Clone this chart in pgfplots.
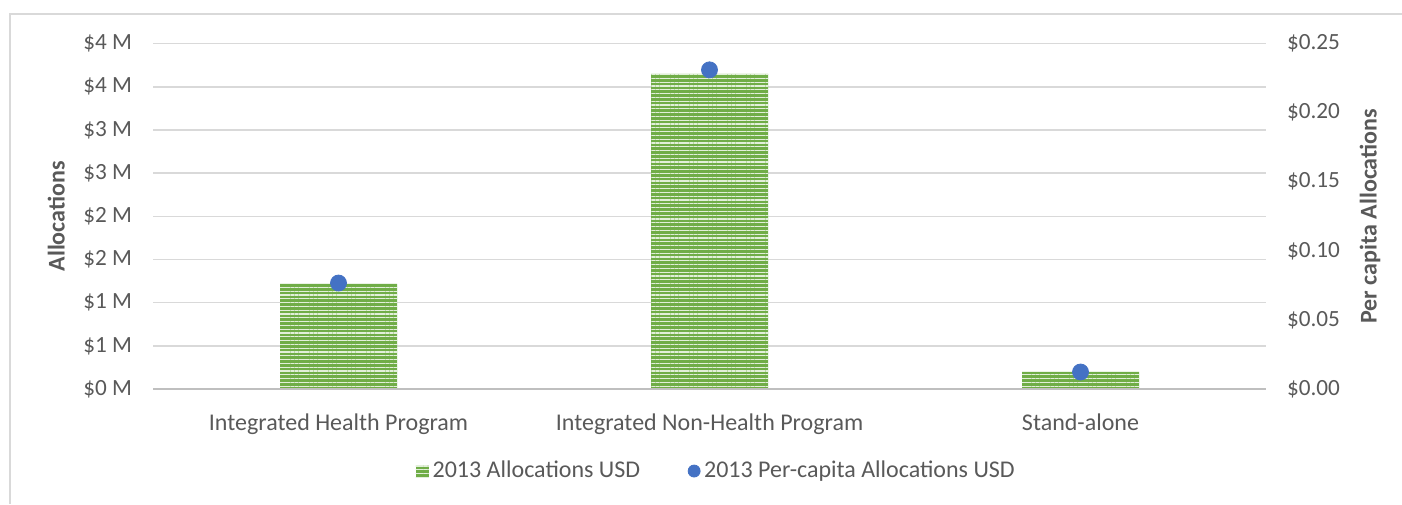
\documentclass[border=0pt]{standalone}
\usepackage{pgfplots}
\pgfplotsset{compat=1.18}
\usetikzlibrary{patterns.meta}
\usepackage{fontspec}
\setmainfont{Carlito}
\definecolor{txt}{HTML}{595959}
\definecolor{gridc}{HTML}{D9D9D9}
\definecolor{axisc}{HTML}{BFBFBF}
\definecolor{barGreen}{HTML}{70AD47}
\definecolor{dotBlue}{HTML}{4472C4}
\tikzset{barpat/.style={postaction={pattern={Lines[angle=0,distance=1.9pt,line width=0.6pt]}, pattern color=white!80!barGreen}}}
\begin{document}
\begin{tikzpicture}
\useasboundingbox (0,0) rectangle (701pt,252pt);
\draw[gridc, line width=1pt] (4.75pt,0) -- (4.75pt,244.75pt) -- (701pt,244.75pt);
\begin{axis}[
  at={(76.5pt,57.5pt)}, anchor=south west,
  scale only axis, width=556.5pt, height=172.7pt,
  xmin=-0.5, xmax=2.5, ymin=0, ymax=4,
  axis y line*=left, axis x line*=bottom,
  axis line style={draw=none},
  xtick={0,1,2},
  xticklabels={Integrated Health Program, Integrated Non-Health Program, Stand-alone},
  ytick={0,0.5,1,1.5,2,2.5,3,3.5,4},
  yticklabels={\$0 M,\$1 M,\$1 M,\$2 M,\$2 M,\$3 M,\$3 M,\$4 M,\$4 M},
  major tick length=0pt,
  xmajorgrids=false, ymajorgrids=true, grid style={color=gridc, line width=0.75pt},
  tick label style={font=\fontsize{11.6}{13}\selectfont, text=txt},
  xticklabel style={font=\fontsize{12}{14}\selectfont, yshift=-9pt},
  yticklabel style={xshift=-7pt},
  ylabel={\textbf{Allocations}},
  ylabel style={font=\fontsize{12}{14}\selectfont, text=txt, at={(axis description cs:-0.087,0.5)}, anchor=center},
  legend style={at={(axis description cs:0.507,-0.2375)}, anchor=center, legend columns=2, draw=none,
    font=\fontsize{12}{14}\selectfont, text=txt,
    /tikz/every even column/.append style={column sep=22pt}},
  legend cell align=left,
  clip=false,
]
\addplot[ybar, bar width=58.5pt, fill=barGreen, draw=none, barpat,
  legend image code/.code={\fill[barGreen, barpat] (0pt,-3.2pt) rectangle (6.4pt,3.2pt);}]
  coordinates {(0,1.217) (1,3.650) (2,0.197)};
\addlegendentry{2013 Allocations USD}
\addlegendimage{only marks, mark=*, mark size=3pt, color=dotBlue, mark options={fill=dotBlue, draw=dotBlue}}
\addlegendentry{2013 Per-capita Allocations USD}
\draw[axisc, line width=1pt] (axis cs:-0.5,0) -- (axis cs:2.5,0);
\end{axis}
\begin{axis}[
  at={(76.5pt,57.5pt)}, anchor=south west,
  scale only axis, width=556.5pt, height=172.7pt,
  xmin=-0.5, xmax=2.5, ymin=0, ymax=0.25,
  axis y line*=right, axis x line=none,
  axis line style={draw=none},
  xtick=\empty,
  ytick={0,0.05,0.1,0.15,0.2,0.25},
  yticklabels={\$0.00,\$0.05,\$0.10,\$0.15,\$0.20,\$0.25},
  major tick length=0pt,
  tick label style={font=\fontsize{11.6}{13}\selectfont, text=txt},
  yticklabel style={xshift=7pt},
  ylabel={\textbf{Per capita Allocations}},
  ylabel style={font=\fontsize{12}{14}\selectfont, text=txt, at={(axis description cs:1.0934,0.5)}, anchor=center},
  clip=false,
]
\addplot[only marks, mark=*, mark size=4pt, color=dotBlue, mark options={fill=dotBlue, draw=dotBlue}]
  coordinates {(0,0.0767) (1,0.231) (2,0.0123)};
\end{axis}
\end{tikzpicture}
\end{document}
